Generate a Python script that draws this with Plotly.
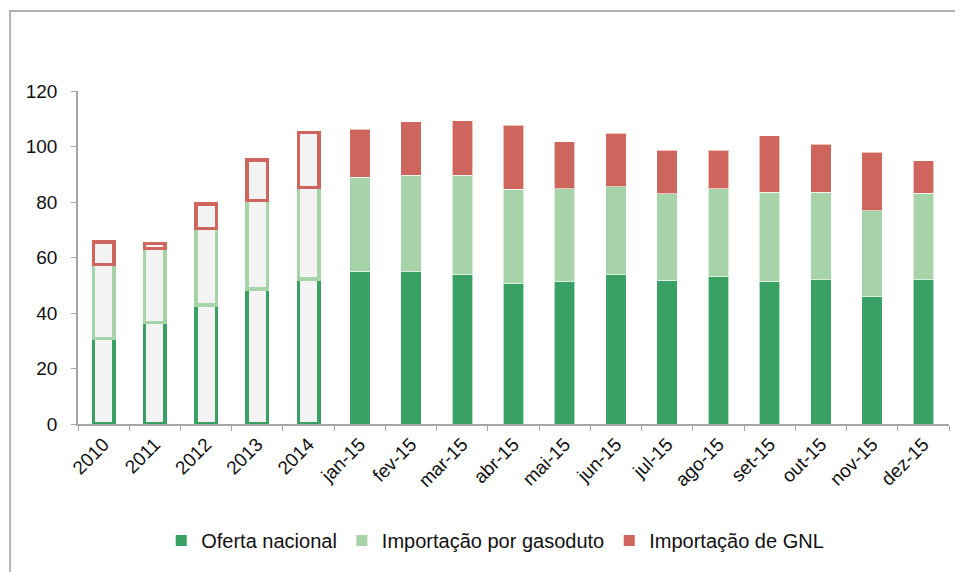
import plotly.graph_objects as go

categories = ["2010", "2011", "2012", "2013", "2014",
              "jan-15", "fev-15", "mar-15", "abr-15", "mai-15", "jun-15",
              "jul-15", "ago-15", "set-15", "out-15", "nov-15", "dez-15"]

oferta_nacional = [30.8, 36.6, 42.9, 48.6, 52.3,
                   55.1, 54.8, 53.8, 50.6, 51.3, 53.8,
                   51.8, 53.0, 51.5, 51.9, 45.8, 51.9]
importacao_gasoduto = [26.7, 26.7, 27.6, 31.9, 33.0,
                       33.9, 34.8, 35.8, 34.0, 33.4, 31.7,
                       31.2, 31.7, 32.0, 31.7, 31.1, 31.2]
importacao_gnl = [8.0, 1.8, 8.7, 14.6, 19.7,
                  17.2, 19.3, 19.6, 23.1, 17.0, 19.3,
                  15.6, 14.0, 20.3, 17.3, 21.0, 11.8]

n_annual = 5
fill_hist = "#f3f3f3"
font_name = "Liberation Sans"

series = [
    ("Oferta nacional", oferta_nacional, "#38a163"),
    ("Importação por gasoduto", importacao_gasoduto, "#a6d3a7"),
    ("Importação de GNL", importacao_gnl, "#cf665e"),
]

fig = go.Figure()
for name, vals, color in series:
    n_month = len(categories) - n_annual
    fig.add_trace(go.Bar(
        x=categories,
        y=vals,
        name=name,
        showlegend=False,
        marker=dict(
            color=[fill_hist] * n_annual + [color] * n_month,
            line=dict(
                color=[color] * n_annual + ["rgba(255,255,255,0.6)"] * n_month,
                width=[3.5] * n_annual + [1] * n_month,
            ),
        ),
    ))

# legend entries with solid squares
for name, vals, color in series:
    fig.add_trace(go.Scatter(
        x=[None], y=[None], mode="markers", name=name,
        marker=dict(symbol="square", size=11, color=color),
    ))

# frame around the chart (left and top edges visible)
fig.add_shape(type="rect", xref="paper", yref="paper",
              x0=-0.078, x1=1.05, y0=-0.5, y1=1.24,
              line=dict(color="#b0b0b0", width=2), layer="below")

fig.update_layout(
    barmode="stack",
    bargap=0.6,
    width=963,
    height=572,
    margin=dict(l=70, r=22, t=83, b=156),
    plot_bgcolor="white",
    paper_bgcolor="white",
    font=dict(family=font_name, size=19, color="#111111"),
    showlegend=True,
    legend=dict(
        orientation="h",
        x=0.479, xanchor="center",
        y=-0.35, yanchor="middle",
        font=dict(size=20),
        traceorder="normal",
        itemwidth=30,
    ),
    xaxis=dict(
        showline=True, linecolor="#a6a6a6", linewidth=1.5,
        ticks="outside", tickcolor="#a6a6a6", ticklen=5,
        tickson="boundaries",
        tickangle=-45,
        showgrid=False,
    ),
    yaxis=dict(
        range=[0, 120], dtick=20,
        showline=True, linecolor="#a6a6a6", linewidth=1.5,
        ticks="outside", tickcolor="#a6a6a6", ticklen=5,
        ticklabelstandoff=10,
        showgrid=False, zeroline=False,
    ),
)

fig.write_html("out.html")
